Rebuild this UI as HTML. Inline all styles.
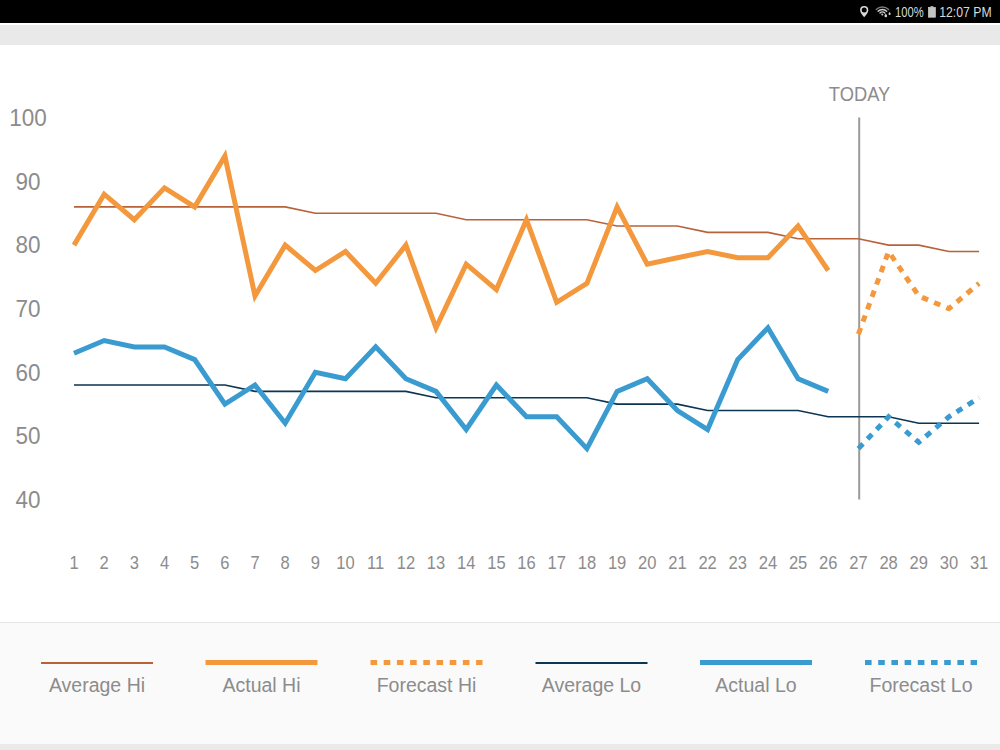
<!DOCTYPE html>
<html><head><meta charset="utf-8">
<style>
html,body{margin:0;padding:0;width:1000px;height:750px;overflow:hidden;background:#fff;font-family:"Liberation Sans",sans-serif;}
#sb{position:absolute;left:0;top:0;width:1000px;height:23px;background:#000;}
#wl{position:absolute;left:0;top:23px;width:1000px;height:2px;background:#fff;}
#gb{position:absolute;left:0;top:25px;width:1000px;height:20px;background:#e9e9e9;}
#lg{position:absolute;left:0;top:622px;width:1000px;height:122px;background:#fafafa;border-top:1px solid #e6e6e6;box-sizing:border-box;}
#bb{position:absolute;left:0;top:744px;width:1000px;height:6px;background:#eaeaea;}
svg{position:absolute;left:0;top:0;}
svg text{font-family:"Liberation Sans",sans-serif;}
</style></head><body>
<div id="sb"></div><div id="wl"></div><div id="gb"></div><div id="lg"></div><div id="bb"></div>
<svg width="1000" height="750" viewBox="0 0 1000 750">
<line x1="859.2" y1="117.5" x2="859.2" y2="499.6" stroke="#9a9a9a" stroke-width="2"/>
<text transform="translate(859.5 100.9) scale(0.885 1)" font-size="20.7" fill="#8c8c8c" text-anchor="middle">TODAY</text>
<text transform="translate(28.0 507.7) scale(0.930 1)" font-size="24.2" fill="#8c8c8c" text-anchor="middle">40</text>
<text transform="translate(28.0 444.1) scale(0.930 1)" font-size="24.2" fill="#8c8c8c" text-anchor="middle">50</text>
<text transform="translate(28.0 380.5) scale(0.930 1)" font-size="24.2" fill="#8c8c8c" text-anchor="middle">60</text>
<text transform="translate(28.0 316.9) scale(0.930 1)" font-size="24.2" fill="#8c8c8c" text-anchor="middle">70</text>
<text transform="translate(28.0 253.3) scale(0.930 1)" font-size="24.2" fill="#8c8c8c" text-anchor="middle">80</text>
<text transform="translate(28.0 189.7) scale(0.930 1)" font-size="24.2" fill="#8c8c8c" text-anchor="middle">90</text>
<text transform="translate(28.0 126.1) scale(0.930 1)" font-size="24.2" fill="#8c8c8c" text-anchor="middle">100</text>
<text transform="translate(74.0 569.2) scale(0.930 1)" font-size="17.8" fill="#8c8c8c" text-anchor="middle">1</text>
<text transform="translate(104.2 569.2) scale(0.930 1)" font-size="17.8" fill="#8c8c8c" text-anchor="middle">2</text>
<text transform="translate(134.3 569.2) scale(0.930 1)" font-size="17.8" fill="#8c8c8c" text-anchor="middle">3</text>
<text transform="translate(164.5 569.2) scale(0.930 1)" font-size="17.8" fill="#8c8c8c" text-anchor="middle">4</text>
<text transform="translate(194.7 569.2) scale(0.930 1)" font-size="17.8" fill="#8c8c8c" text-anchor="middle">5</text>
<text transform="translate(224.9 569.2) scale(0.930 1)" font-size="17.8" fill="#8c8c8c" text-anchor="middle">6</text>
<text transform="translate(255.0 569.2) scale(0.930 1)" font-size="17.8" fill="#8c8c8c" text-anchor="middle">7</text>
<text transform="translate(285.2 569.2) scale(0.930 1)" font-size="17.8" fill="#8c8c8c" text-anchor="middle">8</text>
<text transform="translate(315.4 569.2) scale(0.930 1)" font-size="17.8" fill="#8c8c8c" text-anchor="middle">9</text>
<text transform="translate(345.5 569.2) scale(0.930 1)" font-size="17.8" fill="#8c8c8c" text-anchor="middle">10</text>
<text transform="translate(375.7 569.2) scale(0.930 1)" font-size="17.8" fill="#8c8c8c" text-anchor="middle">11</text>
<text transform="translate(405.9 569.2) scale(0.930 1)" font-size="17.8" fill="#8c8c8c" text-anchor="middle">12</text>
<text transform="translate(436.0 569.2) scale(0.930 1)" font-size="17.8" fill="#8c8c8c" text-anchor="middle">13</text>
<text transform="translate(466.2 569.2) scale(0.930 1)" font-size="17.8" fill="#8c8c8c" text-anchor="middle">14</text>
<text transform="translate(496.4 569.2) scale(0.930 1)" font-size="17.8" fill="#8c8c8c" text-anchor="middle">15</text>
<text transform="translate(526.5 569.2) scale(0.930 1)" font-size="17.8" fill="#8c8c8c" text-anchor="middle">16</text>
<text transform="translate(556.7 569.2) scale(0.930 1)" font-size="17.8" fill="#8c8c8c" text-anchor="middle">17</text>
<text transform="translate(586.9 569.2) scale(0.930 1)" font-size="17.8" fill="#8c8c8c" text-anchor="middle">18</text>
<text transform="translate(617.1 569.2) scale(0.930 1)" font-size="17.8" fill="#8c8c8c" text-anchor="middle">19</text>
<text transform="translate(647.2 569.2) scale(0.930 1)" font-size="17.8" fill="#8c8c8c" text-anchor="middle">20</text>
<text transform="translate(677.4 569.2) scale(0.930 1)" font-size="17.8" fill="#8c8c8c" text-anchor="middle">21</text>
<text transform="translate(707.6 569.2) scale(0.930 1)" font-size="17.8" fill="#8c8c8c" text-anchor="middle">22</text>
<text transform="translate(737.7 569.2) scale(0.930 1)" font-size="17.8" fill="#8c8c8c" text-anchor="middle">23</text>
<text transform="translate(767.9 569.2) scale(0.930 1)" font-size="17.8" fill="#8c8c8c" text-anchor="middle">24</text>
<text transform="translate(798.1 569.2) scale(0.930 1)" font-size="17.8" fill="#8c8c8c" text-anchor="middle">25</text>
<text transform="translate(828.2 569.2) scale(0.930 1)" font-size="17.8" fill="#8c8c8c" text-anchor="middle">26</text>
<text transform="translate(858.4 569.2) scale(0.930 1)" font-size="17.8" fill="#8c8c8c" text-anchor="middle">27</text>
<text transform="translate(888.6 569.2) scale(0.930 1)" font-size="17.8" fill="#8c8c8c" text-anchor="middle">28</text>
<text transform="translate(918.8 569.2) scale(0.930 1)" font-size="17.8" fill="#8c8c8c" text-anchor="middle">29</text>
<text transform="translate(948.9 569.2) scale(0.930 1)" font-size="17.8" fill="#8c8c8c" text-anchor="middle">30</text>
<text transform="translate(979.1 569.2) scale(0.930 1)" font-size="17.8" fill="#8c8c8c" text-anchor="middle">31</text>
<polyline points="74.0,206.9 104.2,206.9 134.3,206.9 164.5,206.9 194.7,206.9 224.9,206.9 255.0,206.9 285.2,206.9 315.4,213.3 345.5,213.3 375.7,213.3 405.9,213.3 436.0,213.3 466.2,219.7 496.4,219.7 526.5,219.7 556.7,219.7 586.9,219.7 617.1,226.0 647.2,226.0 677.4,226.0 707.6,232.4 737.7,232.4 767.9,232.4 798.1,238.7 828.2,238.7 858.4,238.7 888.6,245.1 918.8,245.1 948.9,251.5 979.1,251.5" fill="none" stroke="#b8623a" stroke-width="1.6"/>
<polyline points="74.0,385.0 104.2,385.0 134.3,385.0 164.5,385.0 194.7,385.0 224.9,385.0 255.0,391.4 285.2,391.4 315.4,391.4 345.5,391.4 375.7,391.4 405.9,391.4 436.0,397.7 466.2,397.7 496.4,397.7 526.5,397.7 556.7,397.7 586.9,397.7 617.1,404.1 647.2,404.1 677.4,404.1 707.6,410.5 737.7,410.5 767.9,410.5 798.1,410.5 828.2,416.8 858.4,416.8 888.6,416.8 918.8,423.2 948.9,423.2 979.1,423.2" fill="none" stroke="#0b3552" stroke-width="1.6"/>
<polyline points="74.0,245.1 104.2,194.2 134.3,219.7 164.5,187.9 194.7,206.9 224.9,156.1 255.0,296.0 285.2,245.1 315.4,270.5 345.5,251.5 375.7,283.3 405.9,245.1 436.0,327.8 466.2,264.2 496.4,289.6 526.5,219.7 556.7,302.3 586.9,283.3 617.1,206.9 647.2,264.2 677.4,257.8 707.6,251.5 737.7,257.8 767.9,257.8 798.1,226.0 828.2,270.5" fill="none" stroke="#f3983c" stroke-width="5" stroke-linejoin="miter"/>
<polyline points="74.0,353.2 104.2,340.5 134.3,346.9 164.5,346.9 194.7,359.6 224.9,404.1 255.0,385.0 285.2,423.2 315.4,372.3 345.5,378.7 375.7,346.9 405.9,378.7 436.0,391.4 466.2,429.5 496.4,385.0 526.5,416.8 556.7,416.8 586.9,448.6 617.1,391.4 647.2,378.7 677.4,410.5 707.6,429.5 737.7,359.6 767.9,327.8 798.1,378.7 828.2,391.4" fill="none" stroke="#3a9bd0" stroke-width="5" stroke-linejoin="miter"/>
<polyline points="858.4,334.1 888.6,251.5 918.8,296.0 948.9,308.7 979.1,283.3" fill="none" stroke="#f3983c" stroke-width="5" stroke-dasharray="6.6 6.6"/>
<polyline points="858.4,448.6 888.6,416.8 918.8,442.3 948.9,416.8 979.1,397.7" fill="none" stroke="#3a9bd0" stroke-width="5" stroke-dasharray="6.6 6.6"/>
<line x1="41.0" y1="663.0" x2="153.0" y2="663.0" stroke="#b8623a" stroke-width="2"/>
<text x="97.0" y="692.3" font-size="19.5" fill="#8c8c8c" text-anchor="middle">Average Hi</text>
<line x1="205.5" y1="662.4" x2="317.5" y2="662.4" stroke="#f3983c" stroke-width="5"/>
<text x="261.5" y="692.3" font-size="19.5" fill="#8c8c8c" text-anchor="middle">Actual Hi</text>
<line x1="370.5" y1="662.4" x2="482.5" y2="662.4" stroke="#f3983c" stroke-width="5" stroke-dasharray="6.6 6.6"/>
<text x="426.5" y="692.3" font-size="19.5" fill="#8c8c8c" text-anchor="middle">Forecast Hi</text>
<line x1="535.5" y1="663.0" x2="647.5" y2="663.0" stroke="#0b3552" stroke-width="2"/>
<text x="591.5" y="692.3" font-size="19.5" fill="#8c8c8c" text-anchor="middle">Average Lo</text>
<line x1="700.0" y1="662.4" x2="812.0" y2="662.4" stroke="#3a9bd0" stroke-width="5"/>
<text x="756.0" y="692.3" font-size="19.5" fill="#8c8c8c" text-anchor="middle">Actual Lo</text>
<line x1="865.0" y1="662.4" x2="977.0" y2="662.4" stroke="#3a9bd0" stroke-width="5" stroke-dasharray="6.6 6.6"/>
<text x="921.0" y="692.3" font-size="19.5" fill="#8c8c8c" text-anchor="middle">Forecast Lo</text>
<g fill="#d9d9d9">
<text transform="translate(991.6 16.8) scale(0.875 1)" font-size="14" text-anchor="end">12:07 PM</text>
<text transform="translate(923.6 16.8) scale(0.8 1)" font-size="14" text-anchor="end">100%</text>
<rect x="928.4" y="7.4" width="7" height="9.8" fill="#c4c4c4" stroke="#dcdcdc" stroke-width="0.6"/><rect x="930.4" y="6.2" width="3" height="1.4" fill="#c4c4c4"/>
<path d="M864.2 6a4.1 4.1 0 0 0-4.1 4.1c0 3.1 4.1 7.2 4.1 7.2s4.1-4.1 4.1-7.2a4.1 4.1 0 0 0-4.1-4.1zm0 1.5a2.5 2.5 0 1 1 0 5a2.5 2.5 0 1 1 0-5z" fill-rule="evenodd"/>
<g fill="none" stroke-width="1.4" stroke-linecap="round">
<path d="M876.2 9.6 A8.6 8.6 0 0 1 888.6 9.6" stroke="#7a7a7a"/>
<path d="M878.1 11.3 A6 6 0 0 1 886.7 11.3" stroke="#cfcfcf"/>
<path d="M880 12.9 A3.3 3.3 0 0 1 884.8 12.9" stroke="#cfcfcf"/>
</g>
<circle cx="882.3" cy="14.6" r="1" fill="#cfcfcf"/>
<path d="M885.8 13.6 c0.6 0.9 1.3 1.6 1.3 2.4 a1.3 1.3 0 0 1 -2.6 0 c0 -0.8 0.7 -1.5 1.3 -2.4z" fill="#d4d4d4"/>
<path d="M889.6 12 c0.5 0.7 1.1 1.3 1.1 2 a1.1 1.1 0 0 1 -2.2 0 c0 -0.7 0.6 -1.3 1.1 -2z" fill="#d4d4d4"/>
</g>
</svg>
</body></html>
